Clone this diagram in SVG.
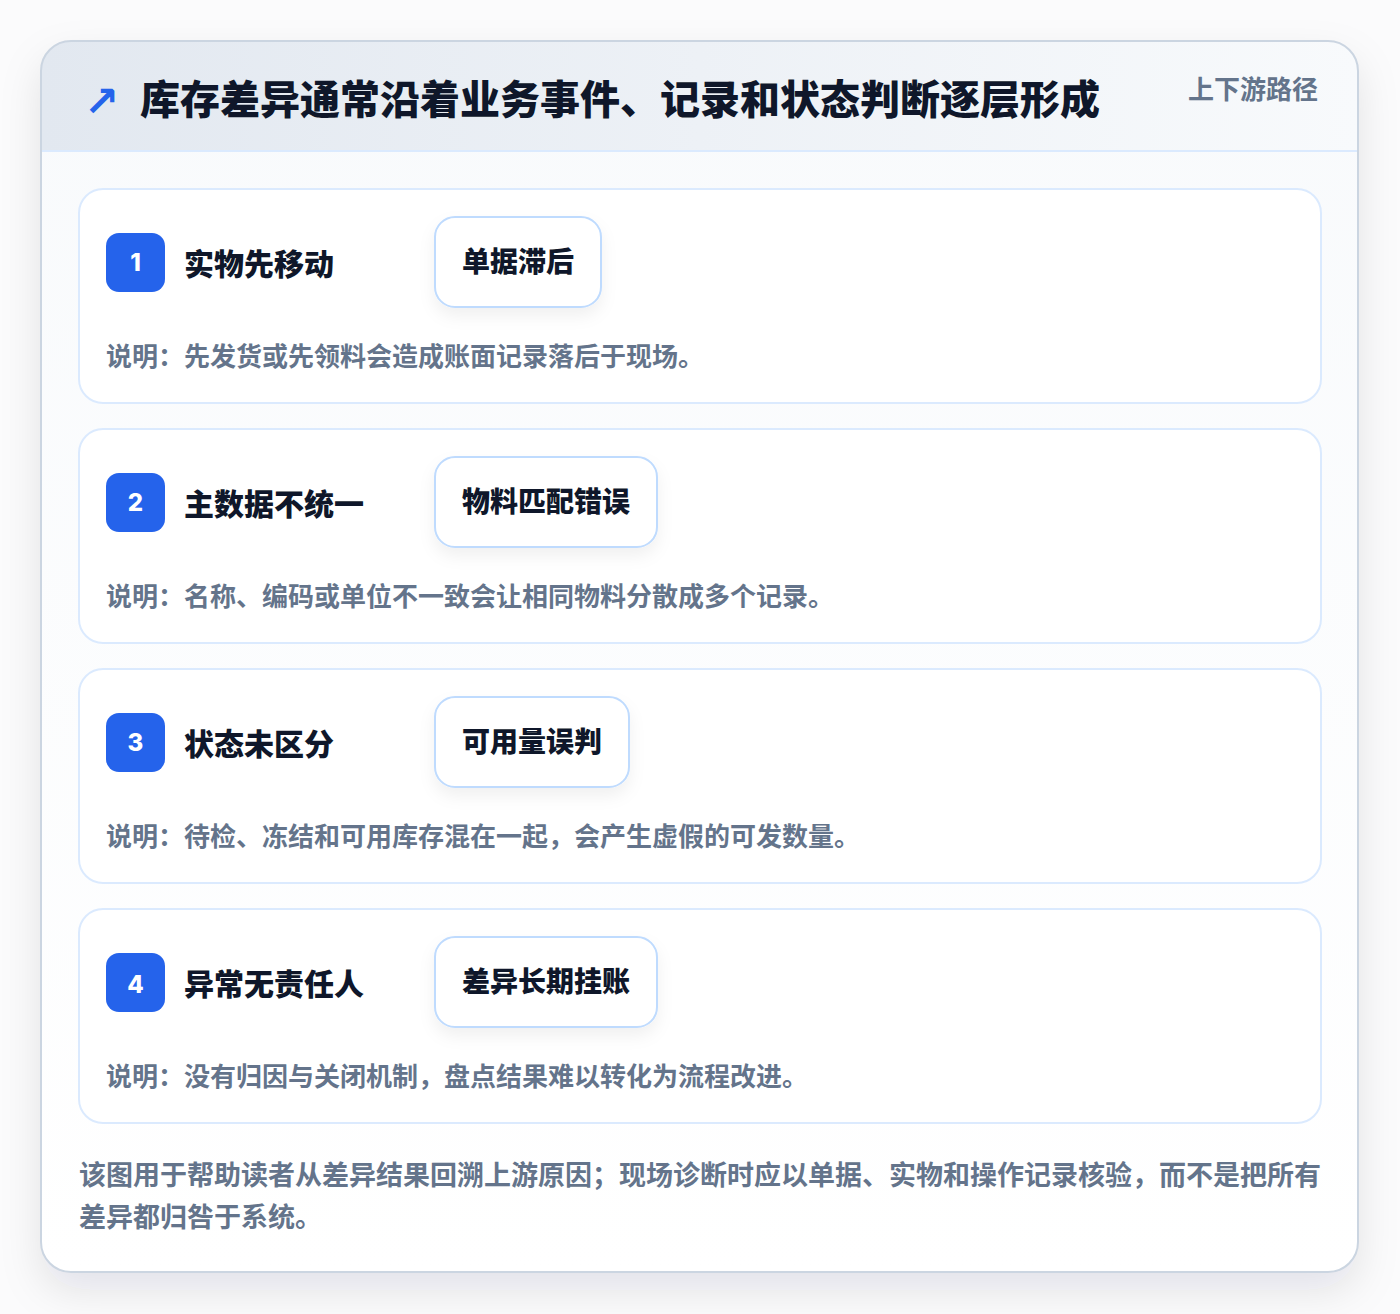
<svg xmlns="http://www.w3.org/2000/svg" width="1400" height="1314" viewBox="0 0 1400 1314">
<defs>
  <linearGradient id="hdr" x1="0" y1="0" x2="1" y2="0">
    <stop offset="0" stop-color="#e2e8f0"/>
    <stop offset="1" stop-color="#f8fafc"/>
  </linearGradient>
  <linearGradient id="body" x1="0" y1="0" x2="0" y2="1">
    <stop offset="0" stop-color="#f8fafc"/>
    <stop offset="1" stop-color="#ffffff"/>
  </linearGradient>
  <filter id="outerShadow" x="-10%" y="-10%" width="120%" height="120%">
    <feDropShadow dx="0" dy="18" stdDeviation="20" flood-color="#0f172a" flood-opacity="0.10"/>
  </filter>
  <filter id="chipShadow" x="-20%" y="-20%" width="140%" height="160%">
    <feDropShadow dx="0" dy="8" stdDeviation="8" flood-color="#0f172a" flood-opacity="0.06"/>
  </filter>
  <clipPath id="cardClip"><rect x="41" y="41" width="1317" height="1231" rx="30"/></clipPath>
</defs>
<style>
  .cjk { font-family: "Noto Sans CJK SC", "Noto Sans", sans-serif; }
  .section { fill: #ffffff; stroke: #dbeafe; stroke-width: 2; }
  .badge { fill: #2563eb; }
  .num { fill: #ffffff; font-family: "Inter", "Liberation Sans", sans-serif; font-weight: 800; font-size: 24px; text-anchor: middle; }
  .ttl { fill: #0f172a; font-weight: 800; font-size: 30px; }
  .chip { fill: #ffffff; stroke: #bfdbfe; stroke-width: 2; }
  .chiptxt { fill: #0f172a; font-weight: 800; font-size: 28px; text-anchor: middle; }
  .desc { fill: #64748b; font-weight: 700; font-size: 26px; }
  .foot { fill: #64748b; font-weight: 700; font-size: 27px; }
</style>
<rect x="0" y="0" width="1400" height="1314" fill="#fbfbfc"/>
<g id="frame">
  <rect x="41" y="41" width="1317" height="1231" rx="30" fill="#ffffff" filter="url(#outerShadow)"/>
  <g clip-path="url(#cardClip)">
    <rect x="41" y="41" width="1317" height="1231" fill="url(#body)"/>
    <rect x="41" y="41" width="1317" height="110" fill="url(#hdr)"/>
    <line x1="41" y1="151" x2="1358" y2="151" stroke="#dbeafe" stroke-width="2"/>
  </g>
  <rect x="41" y="41" width="1317" height="1231" rx="30" fill="none" stroke="#cbd5e1" stroke-width="2"/>
</g>
<g id="header">
  <text x="84" y="116" font-family="DejaVu Sans, sans-serif" font-size="42" font-weight="700" fill="#2563eb">↗</text>
  <text class="cjk" x="140" y="114" font-size="40" font-weight="900" fill="#0f172a">库存差异通常沿着业务事件、记录和状态判断逐层形成</text>
  <text class="cjk" x="1318" y="99" font-size="26" font-weight="700" fill="#64748b" text-anchor="end">上下游路径</text>
</g>
<g id="node1">
  <rect class="section" x="79" y="189" width="1242" height="214" rx="24"/>
  <rect class="badge" x="106" y="233" width="59" height="59" rx="13"/>
  <text class="num" x="135.5" y="271">1</text>
  <text class="cjk ttl" x="184" y="275">实物先移动</text>
  <rect class="chip" x="435" y="217" width="166" height="90" rx="20" filter="url(#chipShadow)"/>
  <text class="cjk chiptxt" x="518" y="272">单据滞后</text>
  <text class="cjk desc" x="106" y="366">说明：先发货或先领料会造成账面记录落后于现场。</text>
</g>
<g id="node2">
  <rect class="section" x="79" y="429" width="1242" height="214" rx="24"/>
  <rect class="badge" x="106" y="473" width="59" height="59" rx="13"/>
  <text class="num" x="135.5" y="511">2</text>
  <text class="cjk ttl" x="184" y="515">主数据不统一</text>
  <rect class="chip" x="435" y="457" width="222" height="90" rx="20" filter="url(#chipShadow)"/>
  <text class="cjk chiptxt" x="546" y="512">物料匹配错误</text>
  <text class="cjk desc" x="106" y="606">说明：名称、编码或单位不一致会让相同物料分散成多个记录。</text>
</g>
<g id="node3">
  <rect class="section" x="79" y="669" width="1242" height="214" rx="24"/>
  <rect class="badge" x="106" y="713" width="59" height="59" rx="13"/>
  <text class="num" x="135.5" y="751">3</text>
  <text class="cjk ttl" x="184" y="755">状态未区分</text>
  <rect class="chip" x="435" y="697" width="194" height="90" rx="20" filter="url(#chipShadow)"/>
  <text class="cjk chiptxt" x="532" y="752">可用量误判</text>
  <text class="cjk desc" x="106" y="846">说明：待检、冻结和可用库存混在一起，会产生虚假的可发数量。</text>
</g>
<g id="node4">
  <rect class="section" x="79" y="909" width="1242" height="214" rx="24"/>
  <rect class="badge" x="106" y="953" width="59" height="59" rx="13"/>
  <text class="num" x="135.5" y="993">4</text>
  <text class="cjk ttl" x="184" y="995">异常无责任人</text>
  <rect class="chip" x="435" y="937" width="222" height="90" rx="20" filter="url(#chipShadow)"/>
  <text class="cjk chiptxt" x="546" y="992">差异长期挂账</text>
  <text class="cjk desc" x="106" y="1086">说明：没有归因与关闭机制，盘点结果难以转化为流程改进。</text>
</g>
<g id="connectors"></g>
<g id="footer">
  <text class="cjk foot" x="79" y="1185">该图用于帮助读者从差异结果回溯上游原因；现场诊断时应以单据、实物和操作记录核验，而不是把所有</text>
  <text class="cjk foot" x="79" y="1227">差异都归咎于系统。</text>
</g>
</svg>
